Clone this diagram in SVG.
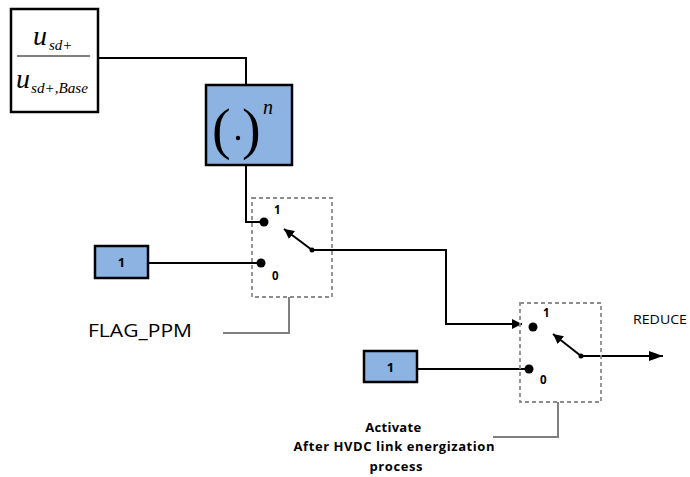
<svg xmlns="http://www.w3.org/2000/svg" width="690" height="477" viewBox="0 0 690 477">
<style>
.blk{fill:#ffffff;stroke:#000;stroke-width:2.5}
.blue{fill:#8db3e2;stroke:#000;stroke-width:2.5}
.wire{fill:none;stroke:#000;stroke-width:2}
.gray{fill:none;stroke:#7f7f7f;stroke-width:2}
.dash{fill:none;stroke:#8c8c8c;stroke-width:1.8;stroke-dasharray:4,3}
.sans{font-family:"Open Sans","Liberation Sans",sans-serif}
.lbl{font-family:"Open Sans","Liberation Sans",sans-serif;font-size:11.5px;font-weight:bold}
.serif{font-family:"Liberation Serif","Times New Roman",serif;font-style:italic}
</style>
<defs>
<marker id="ah" viewBox="0 0 10 10" refX="10" refY="5" markerWidth="10" markerHeight="10" markerUnits="userSpaceOnUse" orient="auto">
<path d="M0,0 L10,5 L0,10 z" fill="#000"/>
</marker>
<marker id="ah2" viewBox="0 0 10 10" refX="10" refY="5" markerWidth="14" markerHeight="14" markerUnits="userSpaceOnUse" orient="auto">
<path d="M0,1.5 L10,5 L0,8.5 z" fill="#000"/>
</marker>
</defs>
<rect width="690" height="477" fill="#fff"/>
<g id="connectors">
<polyline class="wire" points="98,58 246,58 246,85"/>
<polyline class="wire" points="246,165 246,222 262,222"/>
<line class="wire" x1="148" y1="263" x2="259" y2="263"/>
<polyline class="wire" points="312,250 446,250 446,324 522,324" marker-end="url(#ah)"/>
<line class="wire" x1="417" y1="369" x2="527" y2="369"/>
<line class="wire" x1="581" y1="356" x2="663" y2="356" marker-end="url(#ah2)"/>
<polyline class="gray" points="223,333 289,333 289,297"/>
<polyline class="gray" points="493,437 558,437 558,402"/>
</g>
<g id="ratio">
<rect class="blk" x="11" y="9" width="87" height="103"/>
<line x1="17" y1="56" x2="90" y2="56" stroke="#555" stroke-width="1.5"/>
<text class="serif" x="33" y="45" font-size="28">u</text>
<text class="serif" x="49" y="50" font-size="15">sd+</text>
<text class="serif" x="16" y="88" font-size="28">u</text>
<text class="serif" x="31" y="93" font-size="15" textLength="57" lengthAdjust="spacingAndGlyphs">sd+,Base</text>
</g>
<g id="power">
<rect class="blue" x="206" y="85" width="86" height="80"/>
<text x="212" y="148" font-family="Liberation Serif,serif" font-size="56">(</text>
<circle cx="238" cy="138" r="2.2" fill="#000"/>
<text x="242" y="148" font-family="Liberation Serif,serif" font-size="56">)</text>
<text class="serif" x="263" y="114" font-size="20">n</text>
</g>
<g id="const1">
<rect class="blue" x="95" y="246" width="53" height="32"/>
<text class="sans" x="121.5" y="267" font-size="13" font-weight="bold" text-anchor="middle">1</text>
</g>
<g id="switch1">
<rect class="dash" x="252" y="198" width="80" height="99"/>
<circle cx="264" cy="222" r="4.5"/>
<circle cx="261" cy="263" r="4.5"/>
<circle cx="312" cy="250" r="2.5"/>
<line class="wire" x1="312" y1="250" x2="284" y2="229" marker-end="url(#ah)"/>
<text class="lbl" x="274" y="214">1</text>
<text class="lbl" x="272" y="280">0</text>
</g>
<g id="flag">
<text class="sans" x="88" y="337" font-size="17.5" textLength="104" lengthAdjust="spacingAndGlyphs">FLAG_PPM</text>
</g>
<g id="const2">
<rect class="blue" x="364" y="351" width="53" height="31"/>
<text class="sans" x="390.5" y="372" font-size="13" font-weight="bold" text-anchor="middle">1</text>
</g>
<g id="switch2">
<rect class="dash" x="520" y="303" width="81" height="99"/>
<circle cx="533" cy="327" r="4.5"/>
<circle cx="529" cy="369" r="4.5"/>
<circle cx="581" cy="356" r="2.5"/>
<line class="wire" x1="581" y1="356" x2="553" y2="334" marker-end="url(#ah)"/>
<text class="lbl" x="543" y="317">1</text>
<text class="lbl" x="540" y="384">0</text>
</g>
<g id="reduce">
<text class="sans" x="633" y="324" font-size="12.5" textLength="54" lengthAdjust="spacingAndGlyphs">REDUCE</text>
</g>
<g id="activate">
<text class="sans" font-size="13" font-weight="bold" text-anchor="middle" lengthAdjust="spacingAndGlyphs">
<tspan x="395" y="432" textLength="56">Activate</tspan>
<tspan x="396" y="451" textLength="201">After HVDC link energization</tspan>
<tspan x="396" y="471" textLength="53">process</tspan>
</text>
</g>
</svg>
